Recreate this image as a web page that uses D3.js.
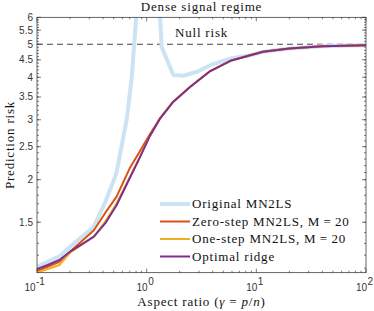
<!DOCTYPE html>
<html><head><meta charset="utf-8">
<script src="https://cdn.jsdelivr.net/npm/d3@7"></script>
<style>
body{margin:0;background:#fff;}
svg{display:block;}
.serif{font-family:"Liberation Serif","Times New Roman",serif;font-size:13px;letter-spacing:0.8px;fill:#111;}
.tick{font-family:"Liberation Sans",Arial,sans-serif;font-size:10px;fill:#333;}
</style></head>
<body>
<svg id="c" width="374" height="311"></svg>
<script>
// ---- data ----
const gammaBlue = [0.1,0.125,0.16,0.2,0.33,0.42,0.53,0.66,0.73,0.82,0.9,1.1,1.25,1.37,1.75,2.15,2.88,3.8,5.8,8.8,11.5,20,40,100];
const riskBlue  = [1.11,1.148,1.19,1.27,1.455,1.72,2.09,3.03,3.97,6.6,15,15,8.6,4.91,4.06,4.04,4.15,4.34,4.54,4.64,4.75,4.86,4.93,4.97];
const gamma     = [0.1,0.125,0.16,0.2,0.33,0.42,0.53,0.7,0.87,1.07,1.33,1.75,2.5,3.8,5.8,8.8,11.5,20,40,100];
const riskZero  = [1.078,1.11,1.148,1.229,1.42,1.6,1.78,2.16,2.43,2.72,3.04,3.39,3.75,4.17,4.47,4.64,4.75,4.86,4.93,4.97];
const riskOne   = [1.066,1.093,1.123,1.22,1.36,1.51,1.70,2.03,2.34,2.69,3.03,3.39,3.75,4.17,4.47,4.64,4.75,4.86,4.93,4.97];
const riskRidge = [1.093,1.123,1.162,1.229,1.36,1.49,1.68,2.02,2.33,2.69,3.03,3.39,3.75,4.17,4.47,4.64,4.75,4.86,4.93,4.97];
const nullRisk = 5;
const yTicks = [1.5,2,2.5,3,3.5,4,4.5,5,5.5,6];
const xTicks = [0.1,1,10,100];
const xTickExp = ["-1","0","1","2"];
const legendLabels = ["Original MN2LS","Zero-step MN2LS, M\u2009=\u200920","One-step MN2LS, M\u2009=\u200920","Optimal ridge"];
const colors = ["#cbe3f3","#d95319","#edb120","#7e2f8e"];
const widths = [4,2,2,2];

// ---- layout ----
const svg = d3.select("#c");
const L=37, R=366, T=17.3, B=272.7;
const x = d3.scaleLog().domain([0.1,100]).range([L,R]);
const y = d3.scaleLog().domain([1.066,6]).range([B,T]);

svg.append("defs").append("clipPath").attr("id","clip")
  .append("rect").attr("x",L).attr("y",T).attr("width",R-L).attr("height",B-T);

const axisColor="#262626";
const g = svg.append("g");
const xMinor=[];
for(let d=0.1; d<100; d*=10){ for(let k=2;k<=9;k++) xMinor.push(d*k); }
xMinor.forEach(v=>{
  g.append("line").attr("x1",x(v)).attr("x2",x(v)).attr("y1",B).attr("y2",B-2).attr("stroke",axisColor).attr("stroke-width",0.6);
  g.append("line").attr("x1",x(v)).attr("x2",x(v)).attr("y1",T).attr("y2",T+2).attr("stroke",axisColor).attr("stroke-width",0.6);
});
xTicks.forEach(v=>{
  g.append("line").attr("x1",x(v)).attr("x2",x(v)).attr("y1",B).attr("y2",B-4).attr("stroke",axisColor).attr("stroke-width",0.6);
  g.append("line").attr("x1",x(v)).attr("x2",x(v)).attr("y1",T).attr("y2",T+4).attr("stroke",axisColor).attr("stroke-width",0.6);
});
const yMinor = d3.range(11,60).map(v=>v/10).filter(v=>v>=1.066 && v<=6);
yMinor.forEach(v=>{
  g.append("line").attr("x1",L).attr("x2",L+2).attr("y1",y(v)).attr("y2",y(v)).attr("stroke",axisColor).attr("stroke-width",0.6);
  g.append("line").attr("x1",R).attr("x2",R-2).attr("y1",y(v)).attr("y2",y(v)).attr("stroke",axisColor).attr("stroke-width",0.6);
});
yTicks.forEach(v=>{
  g.append("line").attr("x1",L).attr("x2",L+4).attr("y1",y(v)).attr("y2",y(v)).attr("stroke",axisColor).attr("stroke-width",0.6);
  g.append("line").attr("x1",R).attr("x2",R-4).attr("y1",y(v)).attr("y2",y(v)).attr("stroke",axisColor).attr("stroke-width",0.6);
  g.append("text").attr("class","tick").attr("x",L-4).attr("y",y(v)+3.5).attr("text-anchor","end").text(String(v));
});
xTicks.forEach((v,i)=>{
  const sx = x(v) + (i===0 ? -1.5 : 1);
  g.append("text").attr("class","tick").attr("x",sx).attr("y",291).attr("text-anchor","end").text("10");
  g.append("text").attr("class","tick").attr("x",sx+0.5).attr("y",285).attr("font-size","7px").attr("text-anchor","start").text(xTickExp[i]);
});

// curves
const line = d3.line().x(d=>x(d[0])).y(d=>y(d[1]));
const series = [
  d3.zip(gammaBlue,riskBlue),
  d3.zip(gamma,riskZero),
  d3.zip(gamma,riskOne),
  d3.zip(gamma,riskRidge)
];
svg.append("line").attr("x1",L).attr("x2",R).attr("y1",y(nullRisk)).attr("y2",y(nullRisk))
  .attr("stroke","#444").attr("stroke-width",1.1).attr("stroke-dasharray","6,4");
const cg = svg.append("g").attr("clip-path","url(#clip)");
series.forEach((s,i)=>{
  cg.append("path").attr("d",line(s)).attr("fill","none").attr("stroke",colors[i])
    .attr("stroke-width",widths[i]).attr("stroke-linejoin","round");
});

// box
svg.append("rect").attr("x",L).attr("y",T).attr("width",R-L).attr("height",B-T)
  .attr("fill","none").attr("stroke",axisColor).attr("stroke-width",0.7);

// texts
svg.append("text").attr("class","serif").attr("x",(L+R)/2).attr("y",11).attr("text-anchor","middle").text("Dense signal regime");
svg.append("text").attr("class","serif").attr("x",175).attr("y",36.5).text("Null risk");
svg.append("text").attr("class","serif").attr("transform",`translate(14,${(T+B)/2}) rotate(-90)`).attr("text-anchor","middle").text("Prediction risk");
const xl = svg.append("text").attr("class","serif").attr("x",(L+R)/2).attr("y",305.5).attr("text-anchor","middle");
xl.append("tspan").text("Aspect ratio (");
xl.append("tspan").attr("font-style","italic").text("\u03B3");
xl.append("tspan").text(" = ");
xl.append("tspan").attr("font-style","italic").text("p");
xl.append("tspan").text("/");
xl.append("tspan").attr("font-style","italic").text("n");
xl.append("tspan").text(")");

// legend
const ly0=204, lstep=17.5;
legendLabels.forEach((lab,i)=>{
  const yy = ly0+i*lstep;
  svg.append("line").attr("x1",160).attr("x2",190).attr("y1",yy).attr("y2",yy).attr("stroke",colors[i]).attr("stroke-width",widths[i]);
  svg.append("text").attr("class","serif").attr("x",192).attr("y",yy+4.3).text(lab);
});
</script>
</body></html>
